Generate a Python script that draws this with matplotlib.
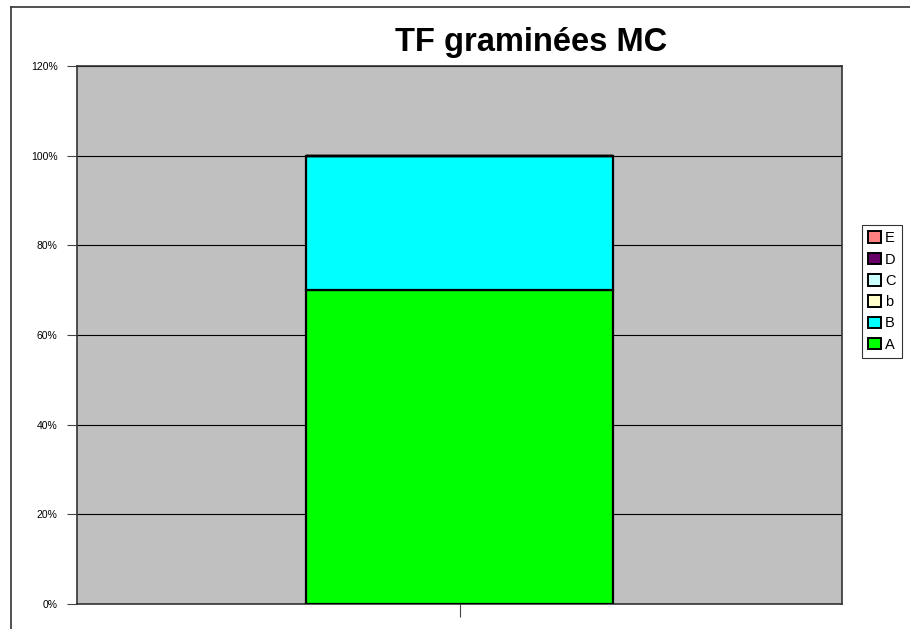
import matplotlib
matplotlib.use("Agg")
import matplotlib.pyplot as plt
from matplotlib.lines import Line2D
from matplotlib.patches import Patch

categories = [""]
series_names = ["A", "B", "b", "C", "D", "E"]
series_values = [[0.70], [0.30], [0.0], [0.0], [0.0], [0.0]]
series_colors = ["#00FF00", "#00FFFF", "#FFFFCC", "#CCFFFF", "#660066", "#FF8080"]
y_ticks = [0, 0.2, 0.4, 0.6, 0.8, 1.0, 1.2]
y_tick_labels = ["0%", "20%", "40%", "60%", "80%", "100%", "120%"]
title = "TF graminées MC"

plt.rcParams['font.family'] = ['Liberation Sans', 'DejaVu Sans']
W, H = 910, 629
fig = plt.figure(figsize=(W/100, H/100), dpi=100)
ax = fig.add_axes([77/W, (H-604)/H, 765/W, 538/H])
ax.set_facecolor("#C0C0C0")

x = list(range(len(categories)))
bottom = [0.0]*len(categories)
for name, vals, col in zip(series_names, series_values, series_colors):
    ax.bar(x, vals, bottom=bottom, width=0.401, color=col, edgecolor="black",
           linewidth=1.6, zorder=3)
    bottom = [b+v for b, v in zip(bottom, vals)]

ax.set_xlim(-0.5, 0.5)
ax.set_ylim(0, 1.2)
ax.set_yticks(y_ticks)
ax.set_yticklabels(y_tick_labels, fontsize=7.5)
ax.set_xticks(x)
ax.set_xticklabels(categories)
ax.tick_params(axis='y', length=7, width=0.8, color="#444444", pad=7)
ax.tick_params(axis='x', length=9, width=0.8, color="#444444")
ax.yaxis.grid(True, color="black", linewidth=0.8, zorder=1)
ax.set_axisbelow(True)
for s in ax.spines.values():
    s.set_color("#333333")
    s.set_linewidth(1.2)

fig.text(531/W, 1-42/H, title, fontsize=23.5, fontweight="bold", ha="center", va="center")

handles = [Patch(facecolor=c, edgecolor="black", linewidth=1.4) for c in series_colors]
leg = fig.legend(handles[::-1], series_names[::-1], loc="center",
                 bbox_to_anchor=(882/W, 1-291.5/H), fontsize=10.5, frameon=True,
                 fancybox=False, edgecolor="black", handlelength=0.85, handleheight=0.85,
                 handletextpad=0.3, labelspacing=0.5, borderpad=0.45, borderaxespad=0)
leg.get_frame().set_linewidth(0.8)

# chart area border (top and left)
fig.add_artist(Line2D([11/W, 1], [1-7/H, 1-7/H], color="#333333", linewidth=1.2))
fig.add_artist(Line2D([11/W, 11/W], [0, 1-7/H], color="#333333", linewidth=1.2))

fig.savefig("out.png", dpi=100, facecolor="white")
